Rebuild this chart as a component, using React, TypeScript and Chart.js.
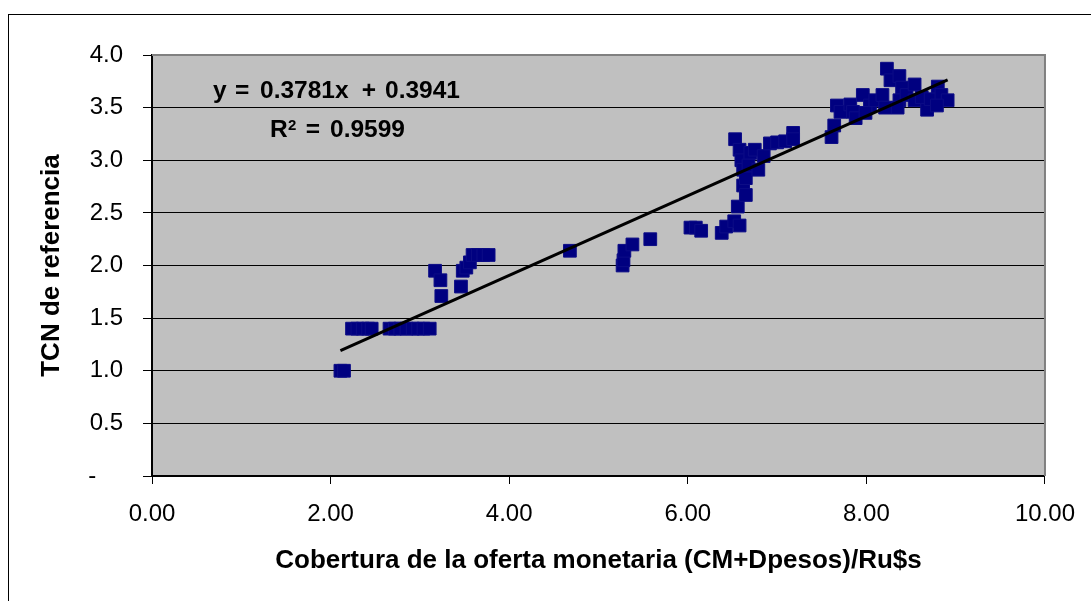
import React, { useEffect, useRef } from "react";
import { Chart, registerables } from "chart.js";

Chart.register(...registerables);

// ---- Data ----
const coverage: number[] = [
  2.11, 2.15,
  2.24, 2.30, 2.36, 2.42, 2.46,
  2.66, 2.72, 2.78, 2.85, 2.92, 2.98, 3.04, 3.11,
  3.17, 3.23, 3.24, 3.46, 3.48, 3.52, 3.56, 3.59, 3.65, 3.71, 3.77,
  4.68,
  5.27, 5.28, 5.29, 5.38, 5.58,
  6.03, 6.09, 6.15,
  6.38, 6.43, 6.52, 6.58, 6.56,
  6.53, 6.58, 6.60, 6.62, 6.62, 6.65, 6.65, 6.70, 6.68, 6.75, 6.79, 6.85, 6.92, 7.00, 7.09, 7.18, 7.18,
  7.61, 7.64, 7.67, 7.71, 7.82, 7.85, 7.88, 7.96, 8.04, 7.99, 8.10, 8.18, 8.21, 8.23, 8.27, 8.37, 8.40,
  8.37, 8.35, 8.45, 8.54, 8.54, 8.62, 8.68, 8.72, 8.80, 8.84, 8.91, 8.79,
];
const tcnReferencia: number[] = [
  1.00, 1.00,
  1.40, 1.40, 1.40, 1.40, 1.40,
  1.40, 1.40, 1.40, 1.40, 1.40, 1.40, 1.40, 1.40,
  1.95, 1.86, 1.71, 1.80, 1.95, 1.98, 2.03, 2.10, 2.10, 2.10, 2.10,
  2.14,
  2.00, 2.05, 2.14, 2.20, 2.25,
  2.36, 2.36, 2.33,
  2.31, 2.37, 2.42, 2.38, 2.56,
  3.20, 3.10, 3.00, 2.91, 2.76, 2.67, 2.83, 3.07, 2.95, 3.10, 2.91, 3.04, 3.16, 3.17, 3.18, 3.26, 3.20,
  3.22, 3.33, 3.52, 3.46, 3.53, 3.46, 3.40, 3.62, 3.52, 3.45, 3.57, 3.62, 3.50, 3.87, 3.76, 3.80, 3.69,
  3.57, 3.50, 3.62, 3.72, 3.57, 3.60, 3.48, 3.58, 3.70, 3.62, 3.57, 3.52,
];

const trendSlope = 0.3781;
const trendIntercept = 0.3941;
const trendR2 = 0.9599;

const xAxisTitle = "Cobertura de la oferta monetaria (CM+Dpesos)/Ru$s";
const yAxisTitle = "TCN de referencia";

const FONT = '"Liberation Sans", Arial, Helvetica, sans-serif';

const decorPlugin = {
  id: "decor",
  beforeDraw(chart: any) {
    const { ctx, chartArea: a } = chart;
    ctx.save();
    ctx.fillStyle = "#c0c0c0";
    ctx.fillRect(a.left, a.top, a.right - a.left, a.bottom - a.top);
    ctx.restore();
  },
  beforeDatasetsDraw(chart: any) {
    const { ctx, chartArea: a } = chart;
    ctx.save();
    ctx.strokeStyle = "#808080";
    ctx.lineWidth = 2;
    ctx.beginPath();
    ctx.moveTo(a.left, a.top);
    ctx.lineTo(a.right, a.top);
    ctx.lineTo(a.right, a.bottom);
    ctx.stroke();
    ctx.restore();
  },
  afterDraw(chart: any) {
    const { ctx, chartArea: a } = chart;
    ctx.save();
    ctx.fillStyle = "#000";
    ctx.textBaseline = "alphabetic";

    // y axis title
    ctx.save();
    ctx.font = `bold 26px ${FONT}`;
    ctx.textAlign = "center";
    ctx.translate(50, (a.top + a.bottom) / 2);
    ctx.rotate(-Math.PI / 2);
    ctx.fillText(yAxisTitle, 0, 0);
    ctx.restore();

    // x axis title
    ctx.font = `bold 26px ${FONT}`;
    ctx.textAlign = "center";
    ctx.fillText(xAxisTitle, (a.left + a.right) / 2, a.bottom + 92.3);

    // trend equation
    ctx.textAlign = "left";
    ctx.font = `bold 24.5px ${FONT}`;
    const ex = a.left + 61;
    const ey = a.top + 43.3;
    ctx.fillText("y", ex, ey);
    ctx.fillText("=", ex + 22, ey);
    ctx.fillText(`${trendSlope.toFixed(4)}x`, ex + 47, ey);
    ctx.fillText("+", ex + 148.7, ey);
    ctx.fillText(trendIntercept.toFixed(4), ex + 172, ey);

    const rx = a.left + 118;
    const ry = a.top + 82.3;
    ctx.fillText("R", rx, ry);
    ctx.font = `bold 15px ${FONT}`;
    ctx.fillText("2", rx + 18, ry - 7.6);
    ctx.font = `bold 24.5px ${FONT}`;
    ctx.fillText("=", rx + 35.7, ry);
    ctx.fillText(trendR2.toFixed(4), rx + 60, ry);
    ctx.restore();
  },
};

export default function App() {
  const canvasRef = useRef<HTMLCanvasElement>(null);

  useEffect(() => {
    const points = coverage.map((x, i) => ({ x, y: tcnReferencia[i] }));
    const xMin = Math.min(...coverage);
    const xMax = Math.max(...coverage);
    const trend = [
      { x: xMin, y: trendSlope * xMin + trendIntercept },
      { x: xMax, y: trendSlope * xMax + trendIntercept },
    ];

    const chart = new Chart(canvasRef.current as HTMLCanvasElement, {
      type: "scatter",
      data: {
        datasets: [
          {
            type: "line",
            label: "Tendencia",
            data: trend,
            showLine: true,
            borderColor: "#000",
            borderWidth: 3,
            pointRadius: 0,
            fill: false,
          } as any,
          {
            label: "TCN",
            data: points,
            pointStyle: "rect",
            pointRadius: 9,
            backgroundColor: "#000080",
            borderColor: "#0c0c86",
            borderWidth: 1,
            showLine: false,
          },
        ],
      },
      options: {
        animation: false,
        responsive: false,
        events: [],
        layout: { padding: { left: 0, top: 40, right: 43, bottom: 0 } },
        plugins: {
          legend: { display: false },
          tooltip: { enabled: false },
        },
        scales: {
          x: {
            type: "linear",
            min: 0,
            max: 10,
            afterFit: (s: any) => {
              s.height = 125;
            },
            ticks: {
              stepSize: 2,
              autoSkip: false,
              maxRotation: 0,
              padding: 16,
              color: "#000",
              font: { family: FONT, size: 24 },
              callback: (v: any) => Number(v).toFixed(2),
            },
            grid: {
              drawOnChartArea: false,
              drawTicks: true,
              tickLength: 8,
              tickColor: "#000",
              tickWidth: 1,
            },
            border: { color: "#000", width: 2 },
          },
          y: {
            type: "linear",
            min: 0,
            max: 4,
            afterFit: (s: any) => {
              s.width = 143;
            },
            ticks: {
              stepSize: 0.5,
              autoSkip: false,
              padding: 20,
              color: "#000",
              font: { family: FONT, size: 24 },
              callback: (v: any) => (Number(v) === 0 ? "-    " : Number(v).toFixed(1)),
            },
            grid: {
              drawOnChartArea: true,
              drawTicks: true,
              tickLength: 9,
              tickColor: "#000",
              color: (c: any) => (c.tick && c.tick.value === 4 ? "rgba(0,0,0,0)" : "#000"),
              lineWidth: 1,
            },
            border: { color: "#000", width: 2 },
          },
        },
      },
      plugins: [decorPlugin],
    } as any);

    return () => chart.destroy();
  }, []);

  return (
    <div
      style={{
        position: "fixed",
        left: 8,
        top: 14,
        width: 1083,
        height: 587,
        boxSizing: "border-box",
        borderTop: "1px solid #000",
        borderLeft: "1px solid #000",
        background: "#fff",
      }}
    >
      <canvas ref={canvasRef} width={1082} height={586} style={{ display: "block" }} />
    </div>
  );
}
